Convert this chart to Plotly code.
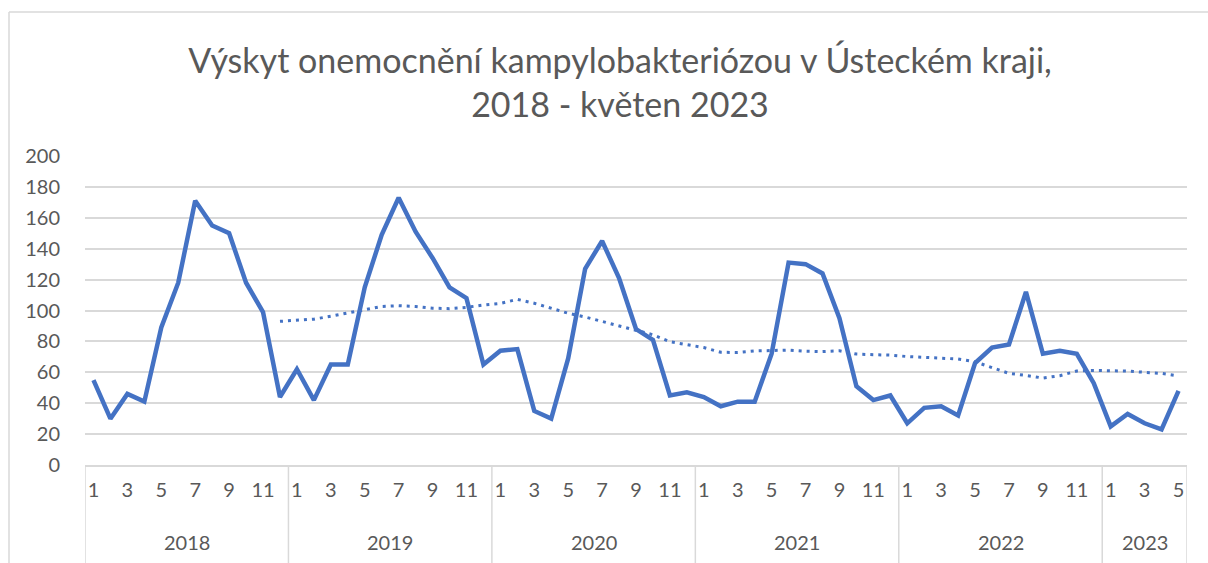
import plotly.graph_objects as go

# ---- data ----
years = ["2018", "2019", "2020", "2021", "2022", "2023"]
cases_2018 = [55, 30, 46, 41, 89, 118, 171, 155, 150, 118, 99, 44]
cases_2019 = [62, 42, 65, 65, 115, 149, 173, 151, 134, 115, 108, 65]
cases_2020 = [74, 75, 35, 30, 69, 127, 145, 121, 88, 81, 45, 47]
cases_2021 = [44, 38, 41, 41, 72, 131, 130, 124, 95, 51, 42, 45]
cases_2022 = [27, 37, 38, 32, 66, 76, 78, 112, 72, 74, 72, 53]
cases_2023 = [25, 33, 27, 23, 48]

# 12-month moving-average trend line (dotted), starts Dec 2018
trend_values = [93, 93.6, 94.4, 96.3, 98.5, 100.6, 102.6, 103.1, 102.6, 101.5, 101.2, 102,
                103.6, 104.6, 107.2, 104.7, 101.6, 98.2, 95.8, 93, 90.3, 87.5, 84.3, 79.8,
                77.9, 76, 73, 72.8, 73.8, 74.1, 74.4, 73.6, 73.4, 73.9, 71.8, 71.4,
                71.1, 70.2, 69.6, 69.4, 68.6, 66.8, 62.8, 59.3, 58, 56.3, 57.8, 60.8,
                61.2, 61.1, 60.8, 60, 59.3, 57.7]
trend_start = 11

y_ticks = [0, 20, 40, 60, 80, 100, 120, 140, 160, 180, 200]

per_year = [cases_2018, cases_2019, cases_2020, cases_2021, cases_2022, cases_2023]
values = [v for yr in per_year for v in yr]
months = [m + 1 for yr in per_year for m in range(len(yr))]
x = list(range(len(values)))
trend = [None] * trend_start + trend_values

BLUE = "#4472C4"
TEXT = "#595959"
GRID = "#D9D9D9"
FONT = "Lato"

fig = go.Figure()
fig.add_trace(go.Scatter(x=x, y=values, mode="lines",
                         line=dict(color=BLUE, width=4.5), showlegend=False,
                         hoverinfo="y"))
fig.add_trace(go.Scatter(x=x, y=trend, mode="lines",
                         line=dict(color=BLUE, width=3, dash="3px,5px"),
                         showlegend=False, hoverinfo="y"))

tickvals = [i for i in x if months[i] % 2 == 1]
ticktext = [str(months[i]) for i in tickvals]

# year boundaries and labels
bounds = [-0.5]
pos = -0.5
for yr in per_year:
    pos += len(yr)
    bounds.append(pos)

shapes = []
for b in bounds:
    shapes.append(dict(type="line", xref="x", yref="paper", x0=b, x1=b,
                       y0=0, y1=-0.32, line=dict(color=GRID, width=1.5)))
# outer chart border (left and top edges only are visible in the crop)
shapes.append(dict(type="line", xref="paper", yref="paper",
                   x0=(9 - 85) / 1102, x1=(9 - 85) / 1102, y0=-0.5, y1=(465 - 12) / 309,
                   line=dict(color=GRID, width=1.5), layer="below"))
shapes.append(dict(type="line", xref="paper", yref="paper",
                   x0=(9 - 85) / 1102, x1=1.3, y0=(465 - 12) / 309, y1=(465 - 12) / 309,
                   line=dict(color=GRID, width=1.5), layer="below"))

annotations = []
for i, yr in enumerate(years):
    annotations.append(dict(x=(bounds[i] + bounds[i + 1]) / 2, y=(465 - 542) / 309,
                            xref="x", yref="paper", text=yr, showarrow=False,
                            xanchor="center", yanchor="middle",
                            font=dict(family=FONT, size=20, color=TEXT)))

fig.update_layout(
    width=1208, height=563,
    margin=dict(l=85, r=21, t=156, b=98),
    paper_bgcolor="white", plot_bgcolor="white",
    title=dict(text="Výskyt onemocnění kampylobakteriózou v Ústeckém kraji,<br>2018 - květen 2023",
               x=(620 - 85) / 1102, xref="paper", xanchor="center",
               y=1 - 73 / 563, yref="container", yanchor="middle",
               font=dict(family=FONT, size=34, color=TEXT, weight=400)),
    xaxis=dict(range=[-0.5, len(values) - 0.5], tickvals=tickvals, ticktext=ticktext,
               showgrid=False, zeroline=False, showline=True, linecolor=GRID, linewidth=1.5,
               ticks="outside", ticklen=6, tickcolor="rgba(0,0,0,0)",
               tickfont=dict(family=FONT, size=20, color=TEXT)),
    yaxis=dict(range=[0, 200], tickvals=y_ticks, showgrid=True, gridcolor=GRID, gridwidth=1.5,
               zeroline=False, showline=False, ticks="outside", ticklen=20,
               tickcolor="rgba(0,0,0,0)",
               tickfont=dict(family=FONT, size=20, color=TEXT)),
    shapes=shapes, annotations=annotations,
)

fig.write_html("out.html", config={"displayModeBar": False},
               post_script="document.body.style.margin='0';document.body.style.overflow='hidden';")
